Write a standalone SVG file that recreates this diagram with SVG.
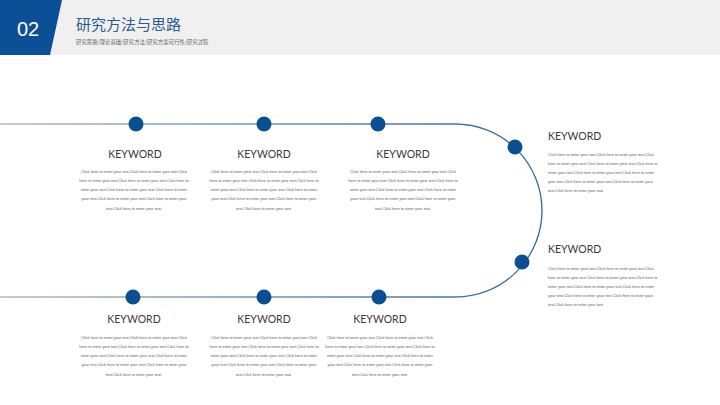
<svg xmlns="http://www.w3.org/2000/svg" width="720" height="405" viewBox="0 0 720 405">
<defs>
<linearGradient id="trk" gradientUnits="userSpaceOnUse" x1="0" y1="0" x2="542" y2="0">
<stop offset="0" stop-color="#aabdce"/>
<stop offset="1" stop-color="#35669b"/>
</linearGradient>
<style>
.kw{font-family:Lato,"Liberation Sans",sans-serif;font-size:10.5px;font-weight:400;fill:#3a3a3a}
.tx{font-family:"Liberation Sans",Arial,sans-serif;font-size:3.9px;fill:#5a5a5a}
.c{text-anchor:middle}
.dot{fill:#0b4f93}
</style>
</defs>
<rect width="720" height="405" fill="#ffffff"/>
<g id="header">
<rect x="0" y="0" width="720" height="55" fill="#f0f0f0"/>
<polygon points="0,0 62,0 50,55 0,55" fill="#0b4f96"/>
<text x="17" y="36" font-family="'Liberation Sans',Arial,sans-serif" font-size="20" fill="#ffffff">02</text>
<text x="76" y="30" font-family="'Noto Sans CJK SC',sans-serif" font-size="15" fill="#2a5b94">研究方法与思路</text>
<text x="76" y="44" font-family="'Noto Sans CJK SC',sans-serif" font-size="5.4" fill="#666">研究思路/理论基础/研究方法/研究方案可行性/研究过程</text>
</g>
<g id="connectors">
<path d="M0,124 H455.5 A86.5,86.5 0 0 1 455.5,297 H0" fill="none" stroke="url(#trk)" stroke-width="1.3"/>
</g>
<g id="node-t1">
<circle class="dot" cx="136" cy="124" r="7.5"/>
<text class="kw c" x="135" y="158">KEYWORD</text>
<text class="tx c"><tspan x="134" y="173">Click here to enter your text.Click here to enter your text.Click</tspan><tspan x="134" y="182">here to enter your text.Click here to enter your text.Click here to</tspan><tspan x="134" y="191">enter your text.Click here to enter your text.Click here to enter</tspan><tspan x="134" y="200">your text.Click here to enter your text.Click here to enter your</tspan><tspan x="134" y="209.5">text.Click here to enter your text.</tspan></text>
</g>
<g id="node-t2">
<circle class="dot" cx="264" cy="124" r="7.5"/>
<text class="kw c" x="264" y="158">KEYWORD</text>
<text class="tx c"><tspan x="264" y="173">Click here to enter your text.Click here to enter your text.Click</tspan><tspan x="264" y="182">here to enter your text.Click here to enter your text.Click here to</tspan><tspan x="264" y="191">enter your text.Click here to enter your text.Click here to enter</tspan><tspan x="264" y="200">your text.Click here to enter your text.Click here to enter your</tspan><tspan x="264" y="209.5">text.Click here to enter your text.</tspan></text>
</g>
<g id="node-t3">
<circle class="dot" cx="378" cy="124" r="7.5"/>
<text class="kw c" x="403" y="158">KEYWORD</text>
<text class="tx c"><tspan x="403" y="173">Click here to enter your text.Click here to enter your text.Click</tspan><tspan x="403" y="182">here to enter your text.Click here to enter your text.Click here to</tspan><tspan x="403" y="191">enter your text.Click here to enter your text.Click here to enter</tspan><tspan x="403" y="200">your text.Click here to enter your text.Click here to enter your</tspan><tspan x="403" y="209.5">text.Click here to enter your text.</tspan></text>
</g>
<g id="node-r1">
<circle class="dot" cx="515" cy="147" r="7.5"/>
<text class="kw" x="548" y="140">KEYWORD</text>
<text class="tx"><tspan x="548" y="155.5">Click here to enter your text.Click here to enter your text.Click</tspan><tspan x="548" y="164.5">here to enter your text.Click here to enter your text.Click here to</tspan><tspan x="548" y="173.5">enter your text.Click here to enter your text.Click here to enter</tspan><tspan x="548" y="182.5">your text.Click here to enter your text.Click here to enter your</tspan><tspan x="548" y="191.5">text.Click here to enter your text.</tspan></text>
</g>
<g id="node-r2">
<circle class="dot" cx="522" cy="262" r="7.5"/>
<text class="kw" x="548" y="253">KEYWORD</text>
<text class="tx"><tspan x="548" y="269.5">Click here to enter your text.Click here to enter your text.Click</tspan><tspan x="548" y="278.5">here to enter your text.Click here to enter your text.Click here to</tspan><tspan x="548" y="287.5">enter your text.Click here to enter your text.Click here to enter</tspan><tspan x="548" y="296.5">your text.Click here to enter your text.Click here to enter your</tspan><tspan x="548" y="305.5">text.Click here to enter your text.</tspan></text>
</g>
<g id="node-b1">
<circle class="dot" cx="133" cy="297" r="7.5"/>
<text class="kw c" x="134" y="323">KEYWORD</text>
<text class="tx c"><tspan x="134" y="338.5">Click here to enter your text.Click here to enter your text.Click</tspan><tspan x="134" y="347.5">here to enter your text.Click here to enter your text.Click here to</tspan><tspan x="134" y="356.5">enter your text.Click here to enter your text.Click here to enter</tspan><tspan x="134" y="366">your text.Click here to enter your text.Click here to enter your</tspan><tspan x="134" y="375.5">text.Click here to enter your text.</tspan></text>
</g>
<g id="node-b2">
<circle class="dot" cx="264" cy="297" r="7.5"/>
<text class="kw c" x="264" y="323">KEYWORD</text>
<text class="tx c"><tspan x="264" y="338.5">Click here to enter your text.Click here to enter your text.Click</tspan><tspan x="264" y="347.5">here to enter your text.Click here to enter your text.Click here to</tspan><tspan x="264" y="356.5">enter your text.Click here to enter your text.Click here to enter</tspan><tspan x="264" y="366">your text.Click here to enter your text.Click here to enter your</tspan><tspan x="264" y="375.5">text.Click here to enter your text.</tspan></text>
</g>
<g id="node-b3">
<circle class="dot" cx="379" cy="297" r="7.5"/>
<text class="kw c" x="380" y="323">KEYWORD</text>
<text class="tx c"><tspan x="380" y="338.5">Click here to enter your text.Click here to enter your text.Click</tspan><tspan x="380" y="347.5">here to enter your text.Click here to enter your text.Click here to</tspan><tspan x="380" y="356.5">enter your text.Click here to enter your text.Click here to enter</tspan><tspan x="380" y="366">your text.Click here to enter your text.Click here to enter your</tspan><tspan x="380" y="375.5">text.Click here to enter your text.</tspan></text>
</g>
</svg>
